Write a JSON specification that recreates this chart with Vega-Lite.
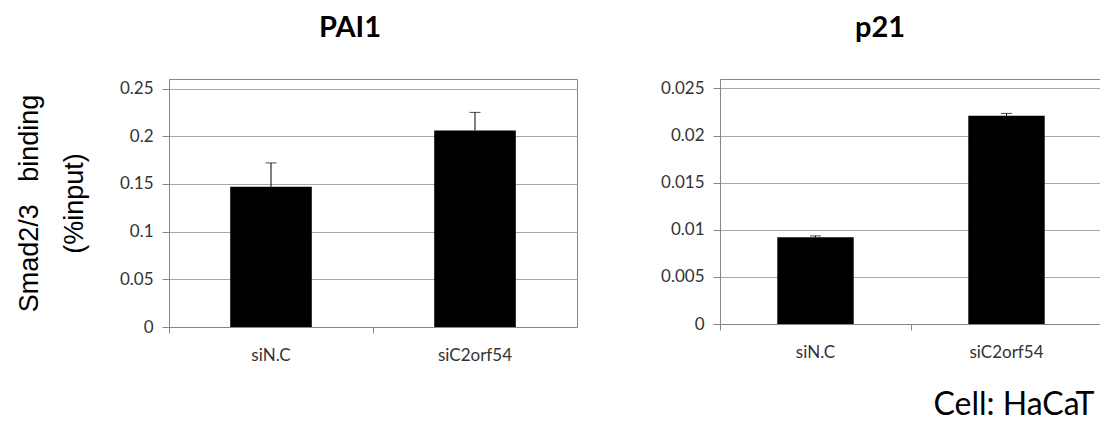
{
  "$schema": "https://vega.github.io/schema/vega-lite/v6.json",
  "background": "white",
  "padding": {"left": 14, "top": 13, "right": 1, "bottom": 2},
  "datasets": {
    "pai1": [
      {"group": "siN.C", "value": 0.147, "upper": 0.172},
      {"group": "siC2orf54", "value": 0.206, "upper": 0.225}
    ],
    "p21": [
      {"group": "siN.C", "value": 0.0092, "upper": 0.00935},
      {"group": "siC2orf54", "value": 0.0221, "upper": 0.02235}
    ]
  },
  "title": {"text": "Cell: HaCaT", "orient": "bottom", "anchor": "end", "fontSize": 32, "font": "Lato", "fontWeight": "normal", "color": "#000000", "offset": 26, "dx": -8},
  "spacing": 82,
  "hconcat": [
    {
      "width": 408,
      "height": 248,
      "title": {"text": "PAI1", "fontSize": 29, "font": "Lato", "fontWeight": "bold", "color": "#000000", "offset": 36, "dx": -23},
      "data": {"name": "pai1"},
      "layer": [
        {
          "mark": {"type": "bar", "color": "#000000", "width": {"band": 0.4}},
          "encoding": {
            "x": {"field": "group", "type": "nominal", "sort": null, "scale": {"paddingInner": 0, "paddingOuter": 0},
                  "axis": {"title": null, "labelAngle": 0, "ticks": false, "tickSize": 0, "labelPadding": 20, "domain": true, "grid": false}},
            "y": {"field": "value", "type": "quantitative", "scale": {"domain": [0, 0.25]},
                  "axis": {"values": [0, 0.05, 0.1, 0.15, 0.2, 0.25], "format": "~g", "title": ["Smad2/3\u00a0\u00a0\u00a0binding", "(%input)"], "titlePadding": 31}}
          }
        },
        {
          "mark": {"type": "rule", "color": "#000000", "strokeWidth": 1},
          "encoding": {
            "x": {"field": "group", "type": "nominal", "sort": null,
                  "axis": {"bandPosition": 0, "labels": false, "domain": false, "ticks": true, "tickSize": 6, "title": null, "orient": "bottom", "grid": false}},
            "y": {"field": "value", "type": "quantitative"},
            "y2": {"field": "upper"}
          }
        },
        {
          "mark": {"type": "tick", "color": "#000000", "size": 11, "thickness": 1, "orient": "horizontal"},
          "encoding": {
            "x": {"field": "group", "type": "nominal", "sort": null, "axis": null},
            "y": {"field": "upper", "type": "quantitative"}
          }
        }
      ],
      "resolve": {"axis": {"x": "independent"}}
    },
    {
      "width": 382,
      "height": 245,
      "title": {"text": "p21", "fontSize": 29, "font": "Lato", "fontWeight": "bold", "color": "#000000", "offset": 36, "dx": -31},
      "data": {"name": "p21"},
      "layer": [
        {
          "mark": {"type": "bar", "color": "#000000", "width": {"band": 0.4}},
          "encoding": {
            "x": {"field": "group", "type": "nominal", "sort": null, "scale": {"paddingInner": 0, "paddingOuter": 0},
                  "axis": {"title": null, "labelAngle": 0, "ticks": false, "tickSize": 0, "labelPadding": 20, "domain": true, "grid": false}},
            "y": {"field": "value", "type": "quantitative", "scale": {"domain": [0, 0.025]},
                  "axis": {"values": [0, 0.005, 0.01, 0.015, 0.02, 0.025], "format": "~g", "title": null}}
          }
        },
        {
          "mark": {"type": "rule", "color": "#000000", "strokeWidth": 1},
          "encoding": {
            "x": {"field": "group", "type": "nominal", "sort": null,
                  "axis": {"bandPosition": 0, "labels": false, "domain": false, "ticks": true, "tickSize": 6, "title": null, "orient": "bottom", "grid": false}},
            "y": {"field": "value", "type": "quantitative"},
            "y2": {"field": "upper"}
          }
        },
        {
          "mark": {"type": "tick", "color": "#000000", "size": 11, "thickness": 1, "orient": "horizontal"},
          "encoding": {
            "x": {"field": "group", "type": "nominal", "sort": null, "axis": null},
            "y": {"field": "upper", "type": "quantitative"}
          }
        }
      ],
      "resolve": {"axis": {"x": "independent"}}
    }
  ],
  "config": {
    "view": {"stroke": "#868686", "strokeWidth": 1},
    "axis": {
      "domainColor": "#868686",
      "tickColor": "#868686",
      "gridColor": "#a8a8a8",
      "labelFont": "Lato",
      "labelFontSize": 17,
      "labelColor": "#333333",
      "titleFont": "Liberation Sans",
      "titleFontSize": 27,
      "titleFontWeight": "normal",
      "titleColor": "#000000",
      "titleLineHeight": 45
    },
    "axisY": {"tickSize": 7, "labelPadding": 9, "grid": true},
    "axisX": {"labelFontSize": 17}
  }
}
